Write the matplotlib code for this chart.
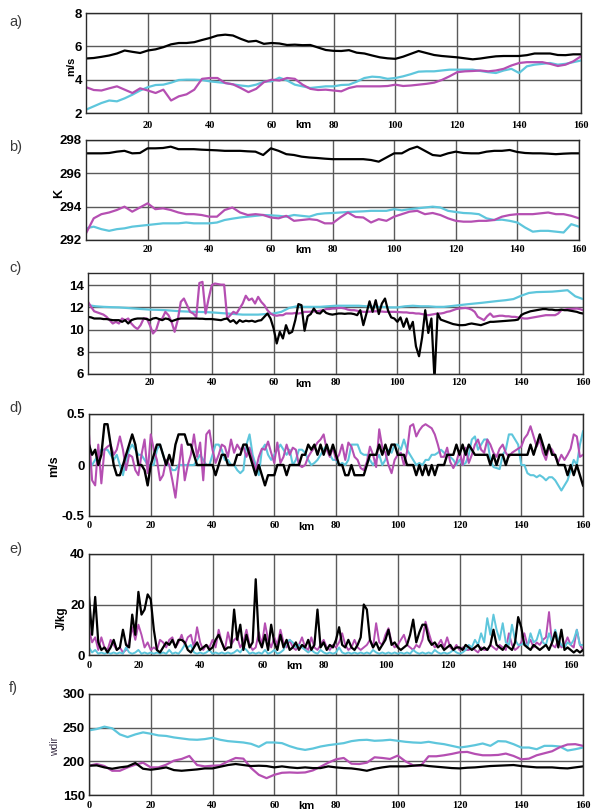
import numpy as np
import matplotlib
matplotlib.use("Agg")
import matplotlib.pyplot as plt
from matplotlib.transforms import ScaledTranslation, blended_transform_factory

# ---------------------------------------------------------------- data
km_coarse = np.arange(0, 160.1, 2.5)   # 65 samples
km_fine = np.arange(0, 161, 1.0)       # 161 samples

# a) wind speed (m/s)
a_black = [5.27, 5.3, 5.37, 5.45, 5.57, 5.75, 5.67, 5.6, 5.75, 5.82,
           5.95, 6.12, 6.2, 6.2, 6.25, 6.38, 6.5, 6.65, 6.7, 6.65,
           6.45, 6.28, 6.33, 6.15, 6.2, 6.17, 6.08, 6.1, 6.07, 6.08,
           5.93, 5.78, 5.73, 5.72, 5.77, 5.62, 5.57, 5.45, 5.34, 5.28,
           5.25, 5.38, 5.55, 5.72, 5.6, 5.48, 5.42, 5.38, 5.34, 5.28,
           5.22, 5.27, 5.34, 5.4, 5.42, 5.42, 5.42, 5.47, 5.57, 5.57,
           5.57, 5.48, 5.47, 5.52, 5.52]
a_cyan = [2.2, 2.4, 2.6, 2.75, 2.7, 2.88, 3.1, 3.35, 3.55, 3.68,
          3.7, 3.82, 3.98, 4.0, 4.0, 3.98, 3.9, 3.85, 3.8, 3.72,
          3.65, 3.6, 3.7, 3.88, 3.9, 4.12, 3.95, 3.7, 3.6, 3.5,
          3.55, 3.6, 3.6, 3.68, 3.7, 3.88, 4.1, 4.18, 4.15, 4.05,
          4.1, 4.2, 4.33, 4.48, 4.5, 4.5, 4.55, 4.6, 4.6, 4.6,
          4.6, 4.52, 4.45, 4.4, 4.55, 4.65, 4.4, 4.8, 4.9, 4.95,
          5.0, 4.9, 4.95, 5.05, 5.15]
a_magenta = [3.55, 3.38, 3.35, 3.48, 3.6, 3.4, 3.2, 3.48, 3.35, 3.2,
             3.4, 2.75, 3.0, 3.12, 3.4, 4.05, 4.1, 4.1, 3.8, 3.72,
             3.5, 3.25, 3.45, 3.85, 4.0, 3.95, 4.1, 4.05, 3.7, 3.45,
             3.38, 3.4, 3.35, 3.3, 3.5, 3.6, 3.6, 3.6, 3.6, 3.62,
             3.7, 3.62, 3.65, 3.7, 3.75, 3.82, 3.98, 4.2, 4.45, 4.5,
             4.52, 4.55, 4.5, 4.55, 4.65, 4.85, 5.0, 5.05, 5.05, 5.05,
             4.95, 4.82, 4.9, 5.1, 5.4]

# b) temperature (K)
b_black = [297.2, 297.2, 297.2, 297.22, 297.3, 297.35, 297.2, 297.22, 297.5, 297.5,
           297.52, 297.6, 297.45, 297.45, 297.45, 297.42, 297.4, 297.38, 297.35, 297.35,
           297.35, 297.32, 297.3, 297.1, 297.5, 297.35, 297.15, 297.1, 297.0, 296.95,
           296.92, 296.88, 296.85, 296.85, 296.85, 296.85, 296.85, 296.8, 296.7, 296.95,
           297.2, 297.2, 297.45, 297.6, 297.35, 297.1, 297.05, 297.2, 297.3, 297.22,
           297.2, 297.2, 297.3, 297.35, 297.35, 297.4, 297.28, 297.22, 297.2, 297.2,
           297.18, 297.15, 297.18, 297.2, 297.2]
b_cyan = [292.7, 292.8, 292.65, 292.55, 292.65, 292.7, 292.8, 292.85, 292.9, 292.95,
          293.0, 293.0, 293.0, 293.05, 293.0, 293.0, 293.0, 293.05, 293.2, 293.28,
          293.35, 293.4, 293.45, 293.5, 293.48, 293.45, 293.4, 293.5, 293.45, 293.4,
          293.55, 293.6, 293.62, 293.65, 293.68, 293.7, 293.72, 293.75, 293.75, 293.75,
          293.85, 293.78, 293.85, 293.9, 293.95, 294.0, 293.95, 293.75, 293.68, 293.62,
          293.6, 293.55, 293.3, 293.2, 293.22, 293.15, 293.05, 292.75, 292.5, 292.55,
          292.55, 292.5, 292.45, 292.95, 292.8]
b_magenta = [292.4, 293.3, 293.55, 293.65, 293.8, 294.0, 293.7, 293.95, 294.2, 293.85,
             293.9, 293.8, 293.65, 293.55, 293.55, 293.5, 293.4, 293.4, 293.8, 293.95,
             293.65, 293.5, 293.55, 293.5, 293.35, 293.3, 293.45, 293.15, 293.2, 293.25,
             293.2, 293.0, 293.0, 293.35, 293.65, 293.38, 293.35, 293.05, 293.25, 293.15,
             293.4, 293.55, 293.7, 293.75, 293.55, 293.62, 293.5, 293.3, 293.15, 293.1,
             293.1, 293.15, 293.15, 293.2, 293.4, 293.5, 293.55, 293.55, 293.55, 293.6,
             293.65, 293.55, 293.55, 293.45, 293.3]

# c) (fine and coarse sampling)
c_cyan = [12.2, 12.1, 12.05, 12.02, 12.0, 11.95, 11.9, 11.85, 11.8, 11.78,
          11.75, 11.7, 11.65, 11.62, 11.6, 11.58, 11.55, 11.5, 11.45, 11.4,
          11.35, 11.35, 11.35, 11.4, 11.45, 11.6, 11.95, 12.1, 12.05, 12.05,
          12.05, 12.1, 12.15, 12.15, 12.15, 12.15, 12.1, 12.05, 12.05, 12.0,
          12.0, 12.1, 12.15, 12.1, 12.1, 12.05, 12.05, 12.12, 12.2, 12.28,
          12.35, 12.42, 12.5, 12.58, 12.65, 12.75, 13.05, 13.3, 13.38, 13.4,
          13.42, 13.48, 13.55, 13.0, 12.75]
c_magenta = [12.5, 12.05, 11.65, 11.55, 11.45, 11.35, 11.15, 10.85, 10.55, 10.7,
             10.55, 11.0, 10.85, 11.0, 10.55, 10.25, 10.05, 10.4, 11.0, 11.0,
             10.4, 9.65, 9.95, 10.85, 11.0, 11.6, 11.3, 10.7, 9.8, 10.85,
             12.5, 12.8, 12.2, 11.6, 11.45, 11.15, 14.2, 14.3, 11.45, 12.8,
             14.0, 14.15, 14.1, 14.05, 14.05, 11.0, 11.3, 11.6, 11.45, 11.9,
             12.35, 13.05, 12.65, 12.8, 12.35, 12.95, 12.5, 12.2, 11.75, 11.45,
             11.3, 11.25, 11.3, 11.3, 11.45, 11.45, 11.45, 11.5, 11.45, 11.5,
             11.6, 11.6, 11.62, 11.65, 11.65, 11.7, 11.75, 11.85, 11.85, 11.9,
             11.9, 11.95, 11.95, 11.9, 11.8, 11.75, 11.75, 11.7, 11.65, 11.6,
             11.6, 11.62, 11.65, 11.65, 11.65, 11.62, 11.6, 11.6, 11.6, 11.6,
             11.58, 11.55, 11.55, 11.55, 11.5, 11.5, 11.45, 11.45, 11.4, 11.35,
             11.3, 11.35, 11.4, 11.45, 11.45, 11.5, 11.6, 11.65, 11.75, 11.85,
             11.9, 11.92, 11.95, 11.9, 11.8, 11.6, 11.15, 11.0, 10.85, 11.2,
             11.45, 11.15, 11.2, 11.25, 11.25, 11.2, 11.2, 11.15, 11.15, 11.1,
             11.05, 11.0, 11.0, 11.05, 11.1, 11.15, 11.2, 11.25, 11.3, 11.3,
             11.3, 11.3, 11.45, 11.75, 11.8, 11.85, 11.85, 11.88, 11.9, 11.85,
             11.75]
c_black = [11.15, 11.1, 11.0, 11.0, 11.0, 10.95, 10.95, 10.9, 10.85, 10.85,
           10.85, 10.7, 10.85, 10.55, 10.85, 10.95, 11.0, 11.0, 11.0, 10.95,
           10.85, 11.0, 11.05, 10.95, 10.85, 11.0, 10.95, 10.75, 10.85, 10.95,
           11.0, 11.0, 11.0, 11.0, 11.0, 11.0, 10.98, 10.98, 10.95, 10.95,
           10.95, 10.92, 10.9, 10.85, 10.95, 11.0, 10.7, 10.85, 10.55, 10.85,
           10.7, 10.8, 10.75, 10.8, 10.7, 10.8, 10.85, 11.15, 11.45, 11.0,
           10.1, 8.75, 9.8, 9.2, 10.4, 9.65, 9.8, 10.85, 12.3, 12.2,
           9.9, 11.2, 11.4, 11.9, 11.5, 11.45, 11.75, 11.5, 11.4, 11.35,
           11.4, 11.45, 11.45, 11.42, 11.45, 11.45, 11.4, 11.3, 11.75, 10.4,
           11.45, 12.55, 11.6, 12.65, 11.4, 12.35, 12.8, 11.7, 11.1, 11.0,
           10.7, 11.1, 10.25, 11.0, 10.05, 10.7, 8.5, 7.6, 9.3, 11.75,
           9.7, 11.0, 5.5, 11.45, 10.9, 10.8, 10.7, 10.6, 10.5, 10.45,
           10.4, 10.4, 10.42, 10.5, 10.55, 10.5, 10.45, 10.4, 10.5, 10.6,
           10.7, 10.7, 10.72, 10.75, 10.75, 10.78, 10.8, 10.82, 10.85, 10.9,
           11.3, 11.45, 11.55, 11.65, 11.7, 11.75, 11.8, 11.85, 11.85, 11.8,
           11.8, 11.75, 11.75, 11.8, 11.75, 11.75, 11.7, 11.65, 11.6, 11.5,
           11.45]

# d) (m/s)
d_cyan = [0.0, 0.0, 0.05, 0.1, 0.15, 0.15, 0.15, 0.1, 0.05, 0.1,
          0.0, -0.1, 0.05, 0.15, 0.2, 0.15, 0.1, 0.1, 0.05, 0.0,
          0.0, 0.0, 0.15, 0.2, 0.1, 0.0, 0.0, -0.05, -0.05, 0.0,
          0.0, 0.0, 0.0, 0.0, 0.0, 0.05, 0.1, 0.05, 0.0, 0.0,
          0.1, 0.2, 0.2, 0.15, 0.05, 0.05, 0.0, 0.0, -0.05, -0.08,
          -0.05, 0.2, 0.3, 0.1, 0.0, -0.1, 0.15, 0.2, 0.1, 0.05,
          0.1, 0.15, 0.2, 0.15, 0.1, 0.15, 0.0, 0.05, 0.15, 0.15,
          0.12, 0.05, 0.0, 0.02, 0.05, 0.1, 0.15, 0.2, 0.1, 0.05,
          0.05, 0.0, 0.02, 0.0, 0.05, 0.2, 0.2, 0.2, 0.12, 0.1,
          0.1, 0.05, 0.0, 0.05, 0.1, 0.0, 0.05, 0.15, 0.12, 0.2,
          0.2, 0.15, 0.25, 0.15, 0.1, 0.05, 0.0, 0.02, 0.0, 0.05,
          0.05, 0.1, 0.1, 0.12, 0.15, 0.12, 0.1, 0.08, 0.05, 0.0,
          0.05, 0.0, 0.02, 0.1, 0.25, 0.28, 0.15, 0.2, 0.25, 0.25,
          0.05, -0.02, -0.03, -0.04, 0.1, 0.15, 0.3, 0.3, 0.25, 0.2,
          0.0, 0.0, -0.08, -0.1, -0.1, -0.12, -0.1, -0.12, -0.15, -0.12,
          -0.12, -0.15, -0.2, -0.25, -0.2, -0.15, -0.05, 0.05, 0.0, 0.2,
          0.33]
d_magenta = [0.3, -0.15, -0.2, 0.2, -0.18, 0.15, 0.18, 0.2, 0.1, 0.15,
             0.28, 0.15, -0.05, 0.1, 0.08, -0.05, -0.1, 0.1, 0.25, -0.08,
             0.3, 0.15, 0.05, -0.15, -0.1, 0.05, 0.0, -0.15, -0.32, -0.05,
             0.2, -0.15, 0.0, 0.1, 0.3, 0.08, 0.22, -0.15, 0.3, 0.34,
             0.15, 0.02, 0.1, 0.2, 0.18, 0.08, 0.25, 0.12, 0.2, 0.15,
             0.18, 0.08, 0.17, 0.05, -0.05, 0.08, 0.16, 0.15, 0.23, 0.12,
             0.02, 0.22, 0.02, 0.08, 0.2, 0.1, 0.17, 0.15, 0.0, -0.02,
             0.0, 0.08, 0.13, 0.17, 0.22, 0.25, 0.3, 0.15, 0.08, 0.17,
             0.05, 0.1, 0.2, 0.05, 0.22, 0.18, 0.08, 0.05, -0.03, -0.05,
             0.03, 0.18, 0.1, -0.02, 0.35, 0.17, 0.12, 0.0, -0.08, 0.05,
             0.1, 0.12, 0.0, 0.13, 0.38, 0.4, 0.28, 0.34, 0.38, 0.4,
             0.38, 0.36, 0.3, 0.2, 0.08, 0.08, 0.17, 0.03, -0.03, 0.03,
             0.14, 0.0, 0.17, 0.02, 0.1, 0.2, 0.25, 0.15, 0.12, 0.25,
             0.2, 0.12, 0.08, 0.16, 0.2, 0.12, 0.08, 0.12, 0.14, 0.16,
             0.18, 0.26, 0.3, 0.38, 0.28, 0.18, 0.25, 0.12, 0.05, 0.18,
             0.15, 0.08, 0.03, 0.1, 0.05, 0.1, 0.16, 0.3, 0.28, 0.08,
             0.1]
d_black = [0.2, 0.1, 0.15, 0.0, 0.1, 0.4, 0.4, 0.2, 0.0, -0.1,
           -0.1, 0.0, 0.1, 0.2, 0.3, 0.2, 0.0, 0.0, -0.05, -0.2,
           0.0, 0.1, 0.2, 0.2, 0.1, 0.0, 0.1, 0.0, 0.2, 0.3,
           0.3, 0.3, 0.2, 0.2, 0.1, 0.0, 0.0, 0.0, 0.0, 0.0,
           0.0, -0.1, 0.0, 0.1, 0.1, 0.0, 0.0, 0.0, 0.1, 0.1,
           0.2, 0.2, 0.1, 0.0, -0.1, 0.0, -0.1, -0.2, -0.1, -0.1,
           -0.1, 0.0, 0.0, 0.0, -0.1, 0.0, 0.0, 0.0, 0.0, 0.1,
           0.1, 0.2, 0.15, 0.2, 0.1, 0.2, 0.1, 0.2, 0.1, 0.2,
           0.1, 0.0, 0.0, -0.1, -0.1, 0.0, -0.1, -0.1, -0.1, -0.1,
           0.0, 0.1, 0.1, 0.1, 0.2, 0.1, 0.2, 0.1, 0.2, 0.2,
           0.1, 0.1, 0.1, 0.0, 0.0, 0.0, -0.1, 0.0, -0.1, 0.0,
           -0.1, 0.0, -0.1, 0.0, 0.0, 0.0, 0.1, 0.1, 0.1, 0.2,
           0.1, 0.2, 0.1, 0.2, 0.15, 0.1, 0.1, 0.1, 0.1, 0.1,
           0.0, 0.1, 0.0, 0.1, 0.1, 0.0, 0.1, 0.1, 0.1, 0.1,
           0.1, 0.1, 0.1, 0.2, 0.1, 0.2, 0.3, 0.2, 0.1, 0.2,
           0.1, 0.1, 0.0, 0.0, 0.0, -0.1, 0.0, -0.1, 0.0, -0.1,
           -0.2]

# e) (J/kg)
e_cyan = [3, 1, 2, 0.5, 1, 0.5, 1, 0.5, 1, 0.5,
          1, 0.5, 3, 1, 0.5, 1, 2, 0.5, 1, 0.5,
          1, 0.5, 1, 0.5, 1, 0.5, 2, 0.5, 1, 0.5,
          2, 4, 3, 4, 1, 0.5, 1, 0.5, 1, 2,
          0.5, 1, 0.5, 1, 0.5, 1, 0.5, 1, 2, 1,
          3, 2, 0.5, 1, 0.5, 1, 0.5, 2, 0.5, 1,
          2, 0.5, 1, 2, 5, 6, 5, 3, 4, 3,
          2, 1, 2, 1, 0.5, 2, 1, 0.5, 1, 0.5,
          1, 3, 1, 0.5, 1, 0.5, 1, 0.5, 1, 0.5,
          1, 0.5, 2, 1, 0.5, 1, 0.5, 1, 0.5, 1,
          0.5, 1, 0.5, 1, 0.5, 2, 1, 0.5, 1, 0.5,
          1, 0.5, 2, 1, 0.5, 1, 0.5, 1, 2, 1,
          0.5, 1, 2, 4, 3, 6, 4, 8.6, 5, 14.6,
          8, 16, 10, 6, 12.6, 5, 4, 12, 6, 4,
          4, 5, 3, 8.6, 5, 6, 10, 5, 4, 8.6,
          5, 10, 6, 4, 3, 5, 4, 6, 10, 4,
          4]
e_magenta = [10, 5, 7, 2, 7, 3, 2, 6, 4, 2,
             3, 1, 2, 5, 11, 6, 12, 8, 3, 5,
             2, 3, 2, 6, 5, 3, 6, 7, 3, 5,
             8, 4, 7, 8, 3, 11, 5, 2, 4, 3,
             6, 3, 10, 5, 2, 9, 4, 6, 7, 3,
             5, 10, 4, 2, 3, 9, 4, 12.6, 6, 3,
             7, 4, 10, 5, 3, 6, 3, 2, 4, 7,
             3, 2, 7, 3, 2, 4, 6, 3, 2, 4,
             3, 5, 8.6, 4, 2, 3, 6, 3, 2, 3,
             4, 6, 3, 12.6, 5, 4, 8, 10.6, 5, 3,
             4, 6, 8, 4, 3, 2, 4, 3, 6, 13.2,
             9, 5, 3, 4, 6, 3, 7, 3, 2, 4,
             2, 3, 2, 2, 3, 2, 1, 3, 2, 2,
             4, 3, 2, 4, 3, 2, 8.6, 4, 2, 3,
             5, 8.6, 4, 6, 3, 5, 4, 6, 7, 17,
             4, 3, 6, 3, 4, 7, 4, 3, 10, 4,
             2]
e_black = [23, 8, 23, 5, 2, 3, 1, 3, 6, 2,
           3, 10, 4, 3, 16, 8, 25, 16, 18, 24,
           22, 10, 2, 1, 3, 5, 4, 6, 3, 6,
           6, 5, 2, 1, 3, 5, 2, 3, 4, 2,
           3, 6, 8, 5, 2, 3, 3, 18, 6, 12,
           2, 8, 3, 5, 30, 6, 3, 8, 2, 12,
           5, 2, 8, 3, 6, 2, 3, 5, 2, 4,
           3, 6, 2, 4, 18, 3, 5, 2, 4, 3,
           6, 11, 4, 3, 6, 3, 2, 4, 7, 20,
           18, 6, 3, 5, 2, 4, 6, 10, 4, 5,
           3, 2, 3, 4, 8, 14, 5, 9, 12, 12,
           6, 4, 5, 3, 4, 2, 3, 4, 2, 3,
           3, 2, 4, 3, 2, 3, 4, 2, 3, 2,
           4, 10, 4, 3, 2, 4, 3, 2, 5, 15,
           11, 4, 3, 2, 4, 3, 2, 3, 4, 2,
           5, 9, 3, 10, 2, 3, 2, 1, 2, 1,
           2]

# f) wind direction
f_cyan = [246, 248, 251.5, 249, 240, 236, 240, 243, 241, 238.5,
          237.7, 235.5, 234, 232.5, 232, 233, 235, 232, 230, 229,
          228, 226, 221.5, 228, 228, 227, 222.5, 219, 217, 219,
          222, 224, 225.5, 227, 230, 231.5, 232, 230.5, 231, 232,
          230.5, 229, 228, 227.5, 229, 227, 225.5, 223, 220.5, 222,
          224, 226.5, 223, 230, 229.5, 225.5, 220.5, 220.5, 218, 223,
          223, 222, 216, 218, 220.5]
f_black = [193.5, 194, 191, 189, 191, 192.5, 197.5, 189, 187.5, 189,
           191, 187, 186, 187, 188, 189.5, 189.5, 192, 194.5, 196,
           194.5, 193, 193.5, 193, 191, 192.5, 191, 190, 191, 190,
           190, 192.5, 191, 190, 189.5, 188, 186, 189, 191, 192.5,
           192.5, 192.5, 193.5, 194.5, 193, 192, 191, 190, 189.5, 190.5,
           191, 192, 193, 193.5, 194, 194.5, 193, 192, 191, 191,
           191, 190, 189.5, 191, 192.5]
f_magenta = [193.5, 196, 193, 186, 186, 191, 195, 198, 191, 191,
             195, 201, 203.5, 208, 194.5, 192.5, 193.5, 194, 200, 205,
             204, 190, 180, 175, 180, 183, 183.5, 183, 183.5, 186.5,
             192, 198, 203, 205, 196.5, 196, 198, 206, 205, 203.5,
             208.5, 200, 194, 193.5, 207.5, 207.5, 209, 211, 213.5, 214,
             211, 209, 209, 209.5, 211.5, 208, 203, 204, 209, 212,
             215, 221, 225, 225.5, 223]

# tick values / labels
x_ticks_short = [20, 40, 60, 80, 100, 120, 140, 160]
x_ticks_full = [0, 20, 40, 60, 80, 100, 120, 140, 160]
a_yticks = [2, 4, 6, 8]
b_yticks = [292, 294, 296, 298]
c_yticks = [6, 8, 10, 12, 14]
d_yticks = [-0.5, 0, 0.5]
d_yticklabels = ["-0.5", "0", "0.5"]
e_yticks = [0, 20, 40]
f_yticks = [150, 200, 250, 300]

# ---------------------------------------------------------------- style
W, H = 591, 810
fig = plt.figure(figsize=(W / 100, H / 100), dpi=100)
fig.patch.set_facecolor("white")

BLACK = "#000000"
CYAN = "#5ec6dc"
MAGENTA = "#b54fb2"
GRID = "#5a5a5a"
XFONT = dict(family="Liberation Serif", weight="bold", size=7.5)
YFONT = dict(family="Liberation Sans", weight="bold", size=9.5)


def px(x, y):
    return x / W, 1 - y / H


def make_axes(box):
    l, t, r, b = box
    ax = fig.add_axes([l / W, 1 - b / H, (r - l) / W, (b - t) / H])
    for s in ax.spines.values():
        s.set_color("#2a2a2a")
        s.set_linewidth(1.0)
    ax.tick_params(length=0, pad=3)
    ax.grid(True, color=GRID, linewidth=1.0)
    ax.set_axisbelow(True)
    return ax


def finish(ax, box, xticks, label_y, shift_px=0.0):
    ax.set_xlim(0, 160)
    ax.set_xticks(xticks)
    ax.set_xticklabels([])
    trans = blended_transform_factory(ax.transData, fig.transFigure)
    for v in xticks:
        off = ScaledTranslation((shift_px if v != 0 else 0) / 100, 0, fig.dpi_scale_trans)
        ax.text(v, 1 - label_y / H, str(v), transform=trans + off,
                ha="center", va="center", clip_on=False, **XFONT)
    for lab in ax.get_yticklabels():
        lab.set_fontfamily(YFONT["family"])
        lab.set_fontweight(YFONT["weight"])
        lab.set_fontsize(YFONT["size"])


def km_label(x, y):
    fig.text(*px(x, y), "km", ha="center", va="center",
             family="Liberation Sans", weight="bold", size=8)


def panel_letter(s, x, y):
    fig.text(*px(x, y), s, ha="left", va="center",
             family="Liberation Sans", size=10.5, color="#3a3a3a")


# ---------------------------------------------------------------- a)
box = (86, 13, 581, 113)
ax = make_axes(box)
ax.plot(km_coarse, a_cyan, color=CYAN, lw=1.6)
ax.plot(km_coarse, a_magenta, color=MAGENTA, lw=1.6)
ax.plot(km_coarse, a_black, color=BLACK, lw=1.6)
ax.set_ylim(2, 8)
ax.set_yticks(a_yticks)
finish(ax, box, x_ticks_short, 125)
km_label(303, 125)
panel_letter("a)", 9, 22)
fig.text(*px(71, 66), "m/s", rotation=90, ha="center", va="center",
         family="Liberation Sans", weight="bold", size=8)

# ---------------------------------------------------------------- b)
box = (86, 140, 579, 240)
ax = make_axes(box)
ax.plot(km_coarse, b_cyan, color=CYAN, lw=1.6)
ax.plot(km_coarse, b_magenta, color=MAGENTA, lw=1.6)
ax.plot(km_coarse, b_black, color=BLACK, lw=1.6)
ax.set_ylim(292, 298)
ax.set_yticks(b_yticks)
finish(ax, box, x_ticks_short, 250)
km_label(303, 250)
panel_letter("b)", 9, 147)
fig.text(*px(59, 193), "K", rotation=90, ha="center", va="center",
         family="Liberation Sans", weight="bold", size=9)

# ---------------------------------------------------------------- c)
box = (88, 273, 583, 374)
ax = make_axes(box)
ax.plot(km_coarse, c_cyan, color=CYAN, lw=1.6)
ax.plot(km_fine, c_magenta, color=MAGENTA, lw=1.6)
ax.plot(km_fine, c_black, color=BLACK, lw=1.6)
ax.set_ylim(6, 15.1)
ax.set_yticks(c_yticks)
finish(ax, box, x_ticks_short, 383)
km_label(303, 384)
panel_letter("c)", 9, 268)

# ---------------------------------------------------------------- d)
box = (89, 414, 583, 516)
ax = make_axes(box)
ax.plot(km_fine, d_cyan, color=CYAN, lw=1.5)
ax.plot(km_fine, d_magenta, color=MAGENTA, lw=1.5)
ax.plot(km_fine, d_black, color=BLACK, lw=1.7)
ax.set_ylim(-0.5, 0.5)
ax.set_yticks(d_yticks)
ax.set_yticklabels(d_yticklabels)
finish(ax, box, x_ticks_full, 526)
km_label(306, 527)
panel_letter("d)", 9, 408)
fig.text(*px(54, 466), "m/s", rotation=90, ha="center", va="center",
         family="Liberation Sans", weight="bold", size=9)

# ---------------------------------------------------------------- e)
box = (89, 554, 583, 655)
ax = make_axes(box)
ax.plot(km_fine, e_magenta, color=MAGENTA, lw=1.4)
ax.plot(km_fine, e_cyan, color=CYAN, lw=1.4)
ax.plot(km_fine, e_black, color=BLACK, lw=1.6)
ax.set_ylim(0, 40)
ax.set_yticks(e_yticks)
finish(ax, box, x_ticks_full, 665, shift_px=-12)
km_label(294, 666)
panel_letter("e)", 9, 549)
fig.text(*px(62, 618), "J/kg", rotation=90, ha="center", va="center",
         family="Liberation Sans", weight="bold", size=8.5)

# ---------------------------------------------------------------- f)
box = (89, 694, 583, 795)
ax = make_axes(box)
ax.plot(km_coarse, f_cyan, color=CYAN, lw=1.6)
ax.plot(km_coarse, f_magenta, color=MAGENTA, lw=1.6)
ax.plot(km_coarse, f_black, color=BLACK, lw=1.6)
ax.set_ylim(150, 300)
ax.set_yticks(f_yticks)
finish(ax, box, x_ticks_full, 806)
km_label(306, 806)
panel_letter("f)", 9, 688)
fig.text(*px(55, 746), "wdir", rotation=90, ha="center", va="center",
         family="Liberation Sans", size=7.5, color="#3a2f45")

fig.savefig("out.png", dpi=100, facecolor="white")
